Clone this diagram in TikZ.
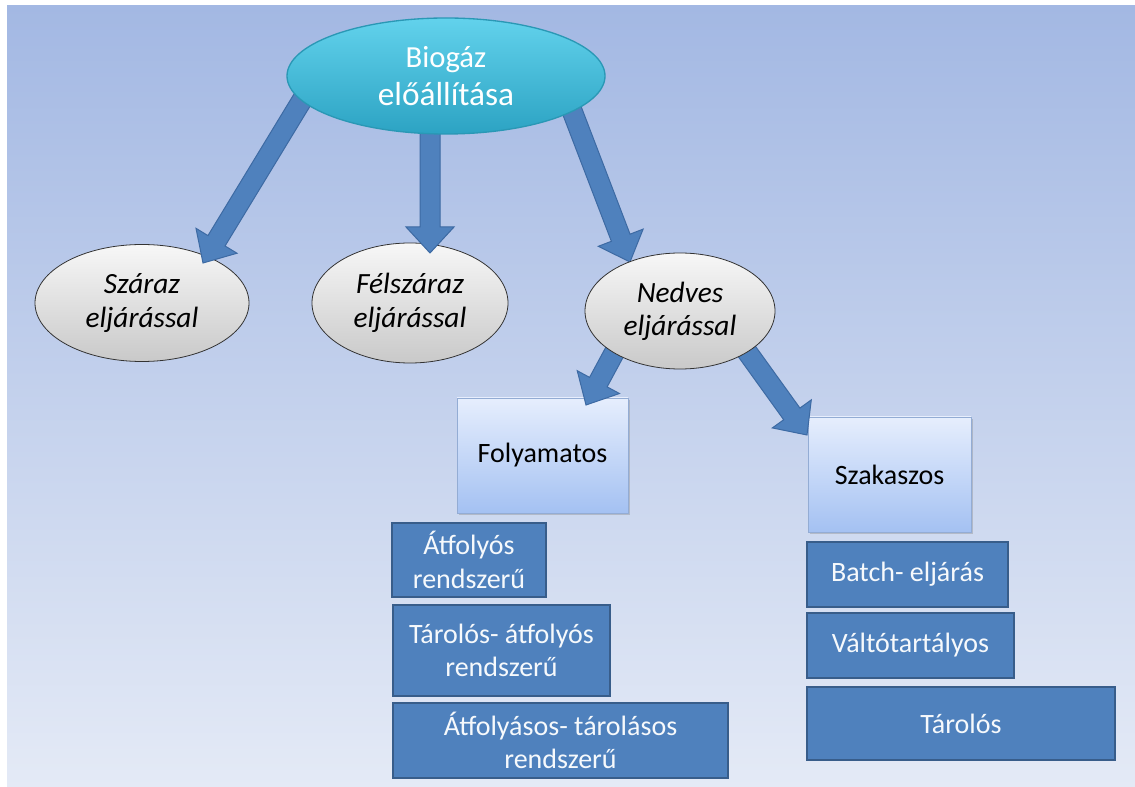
\documentclass[tikz,border=0pt]{standalone}
\usepackage{fontspec}
\setmainfont{Carlito}
\usetikzlibrary{calc,shapes.geometric,shadows}

\definecolor{bgtop}{HTML}{A3B8E3}
\definecolor{bgbot}{HTML}{E4EAF6}
\definecolor{cyantop}{HTML}{62D2EC}
\definecolor{cyanbot}{HTML}{2CA3C3}
\definecolor{cyanline}{HTML}{2A98B5}
\definecolor{greytop}{HTML}{F7F7F7}
\definecolor{greybot}{HTML}{C9C9C9}
\definecolor{paletop}{HTML}{E6EEFD}
\definecolor{palebot}{HTML}{A4C1F2}
\definecolor{paleline}{HTML}{93ACD4}
\definecolor{boxblue}{HTML}{4F81BD}
\definecolor{boxline}{HTML}{385D8A}
\definecolor{arrline}{HTML}{3D6AA3}

\pgfdeclarelayer{front}
\pgfsetlayers{main,front}

\tikzset{
  rootnode/.style={ellipse, draw=cyanline, line width=1pt, top color=cyantop, bottom color=cyanbot,
    text=white, align=center, inner sep=0pt, minimum width=238.5pt, minimum height=87pt,
    font=\fontsize{23}{28}\selectfont},
  methodnode/.style={ellipse, draw=black!80, line width=0.6pt, top color=greytop, bottom color=greybot,
    align=center, inner sep=0pt, font=\fontsize{22}{25}\selectfont\itshape},
  modenode/.style={rectangle, draw=paleline, line width=0.6pt, top color=paletop, bottom color=palebot,
    drop shadow={opacity=0.35, shadow xshift=1.5pt, shadow yshift=-1.5pt},
    inner sep=0pt, minimum height=86.25pt, font=\fontsize{21}{25}\selectfont},
  typenode/.style={rectangle, draw=boxline, line width=1.5pt, fill=boxblue, text=white!95!boxblue,
    align=center, inner sep=0pt, font=\fontsize{21}{25}\selectfont},
  flowarrow/.style={draw=arrline, line width=0.75pt, fill=boxblue, line join=miter}
}

\newcommand{\blockarrow}[2]{%
  \coordinate (hd) at ($(#2)!19.5pt!(#1)$);
  \draw[flowarrow] ($(#1)!7.5pt!90:(#2)$) -- ($(hd)!7.5pt!90:(#2)$) -- ($(hd)!18pt!90:(#2)$)
    -- (#2) -- ($(hd)!18pt!-90:(#2)$) -- ($(hd)!7.5pt!-90:(#2)$) -- ($(#1)!7.5pt!-90:(#2)$) -- cycle;
}

\begin{document}
\begin{tikzpicture}[x=0.75pt,y=0.75pt,yscale=-1,xscale=1]

\useasboundingbox (0,0) rectangle (1135,787);
\fill[top color=bgtop, bottom color=bgbot] (7,6) rectangle (1135,787);

% lower level: ellipses and boxes
\node[methodnode, minimum width=160.5pt, minimum height=87.75pt] (sza) at (142,303) {Száraz\\eljárással};
\node[methodnode, minimum width=147pt, minimum height=90pt] (fel) at (410,303) {Félszáraz\\eljárással};

\node[modenode, minimum width=128.25pt] (fol) at (542.5,455.5) {Folyamatos};
\node[modenode, minimum width=122.25pt] (szk) at (889.5,474.5) {Szakaszos};

\node[typenode, minimum width=115.5pt, minimum height=55.5pt] (atf) at (469,560) {Átfolyós\\rendszerű};
\node[typenode, minimum width=162.75pt, minimum height=68.25pt] (tat) at (501.5,650.5) {Tárolós- átfolyós\\rendszerű};
\node[typenode, minimum width=251.25pt, minimum height=56.25pt] (att) at (560.5,740.5) {Átfolyásos- tárolásos\\rendszerű};

\node[typenode, minimum width=150.75pt, minimum height=48.75pt] (bat) at (907.5,574.5) {Batch- eljárás};
\node[typenode, minimum width=155.25pt, minimum height=48.75pt] (val) at (910.5,645.5) {Váltótartályos};
\node[typenode, minimum width=231pt, minimum height=54.75pt] (tar) at (961,723.5) {Tárolós};

% upper level sits over the arrow tails
\begin{pgfonlayer}{front}
\node[rootnode] (bio) at (446,76) {Biogáz\\{\fontsize{25}{28}\selectfont előállítása}};
\node[methodnode, minimum width=142.5pt, minimum height=87pt] (ned) at (680,311) {Nedves\\eljárással};
\end{pgfonlayer}

% arrow ends
\coordinate (bioL) at ($(bio)+(-136,11)$);
\coordinate (bioM) at ($(bio)+(-16,44)$);
\coordinate (bioR) at ($(bio)+(120,19)$);
\coordinate (szaIn) at ($(sza)+(61,-40)$);
\coordinate (felIn) at ($(fel)+(20,-50)$);
\coordinate (nedIn) at ($(ned)+(-50,-49)$);
\coordinate (nedL) at ($(ned)+(-60,31)$);
\coordinate (nedR) at ($(ned)+(55,24)$);
\coordinate (folIn) at ($(fol)+(43.5,-50.5)$);
\coordinate (szkIn) at ($(szk)+(-82.5,-39.5)$);

\blockarrow{bioL}{szaIn}
\blockarrow{bioM}{felIn}
\blockarrow{bioR}{nedIn}
\blockarrow{nedL}{folIn}
\blockarrow{nedR}{szkIn}

\end{tikzpicture}
\end{document}
